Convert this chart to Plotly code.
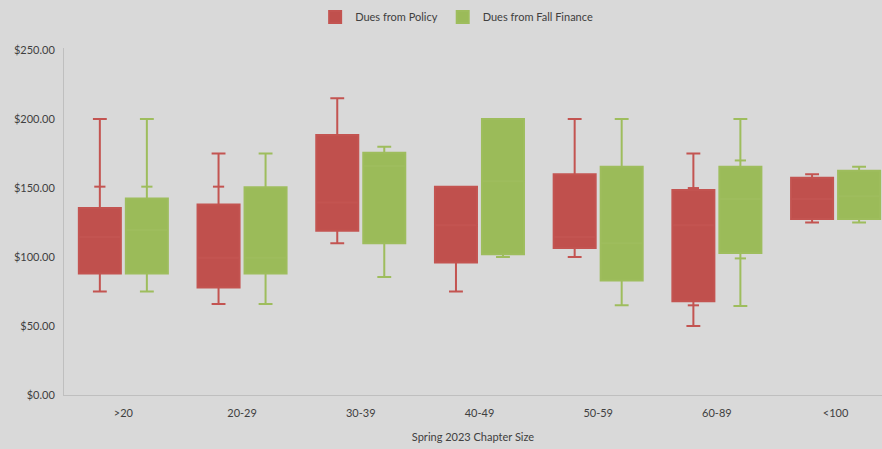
import plotly.graph_objects as go

# Chapter size groups
categories = [">20", "20-29", "30-39", "40-49", "50-59", "60-89", "<100"]

# Dues from Policy: five-number summaries per group
policy_min = [75, 66, 110, 75, 100, 50, 125]
policy_q1 = [88, 78, 119, 96, 106.5, 68, 127.5]
policy_median = [114.5, 99.5, 139.5, 123, 114.5, 123, 142]
policy_q3 = [135.5, 138, 188.5, 151, 160, 148.5, 157.5]
policy_max = [200, 175, 215, 151, 200, 175, 160]
policy_points = [[151], [151], [], [], [], [150, 65], []]

# Dues from Fall Finance: five-number summaries per group
fall_min = [75, 66, 85.5, 100, 65, 64.5, 125]
fall_q1 = [88, 88, 110, 102, 83, 103, 127.5]
fall_median = [119.5, 99.5, 166, 155, 110, 142, 144]
fall_q3 = [142.5, 150.5, 175.5, 200, 165.5, 165.5, 162.5]
fall_max = [200, 175, 180, 200, 200, 200, 165.5]
fall_points = [[151], [], [], [], [], [170, 99], []]

y_ticks = [0, 50, 100, 150, 200, 250]

BG = "#D9D9D9"
TEXT = "#404040"
AXIS_LINE = "#BFBFBF"
RED_FILL, RED_LINE = "#C0504D", "#C35451"
GREEN_FILL, GREEN_LINE = "#9BBB59", "#9EBD5D"

OFFSET = 0.198
BOX_W = 0.354

series = [
    ("Dues from Policy", -OFFSET, policy_min, policy_q1, policy_median, policy_q3,
     policy_max, policy_points, RED_FILL, RED_LINE),
    ("Dues from Fall Finance", OFFSET, fall_min, fall_q1, fall_median, fall_q3,
     fall_max, fall_points, GREEN_FILL, GREEN_LINE),
]

fig = go.Figure()
idx = list(range(len(categories)))

for name, off, lo, q1, med, q3, hi, pts, fill, line in series:
    xs = [i + off for i in idx]
    fig.add_trace(go.Box(
        name=name,
        x=xs,
        lowerfence=lo, q1=q1, median=med, q3=q3, upperfence=hi,
        width=BOX_W,
        whiskerwidth=0.33,
        fillcolor=fill,
        line=dict(color=line, width=2),
        boxpoints=False,
        hoverinfo="skip",
    ))
    px, py = [], []
    for x, vals in zip(xs, pts):
        for v in vals:
            px.append(x)
            py.append(v)
    fig.add_trace(go.Scatter(
        x=px, y=py, mode="markers", showlegend=False, hoverinfo="skip",
        marker=dict(symbol="line-ew", size=8, line=dict(color=line, width=2)),
    ))

fig.update_layout(
    width=882, height=449,
    paper_bgcolor=BG, plot_bgcolor=BG,
    margin=dict(l=64, r=0, t=48, b=54),
    font=dict(family="Lato, 'Open Sans', sans-serif", size=11, color=TEXT),
    showlegend=True,
    legend=dict(
        orientation="h", x=0.48, xanchor="center", y=1.089, yanchor="middle",
        bgcolor="rgba(0,0,0,0)", font=dict(size=11, color=TEXT),
    ),
    xaxis=dict(
        tickmode="array", tickvals=idx, ticktext=categories,
        range=[-0.5, 6.391], showgrid=False, zeroline=False,
        showline=True, linecolor=AXIS_LINE, linewidth=1,
        ticks="outside", ticklen=8, tickcolor=BG,
        title=dict(text="Spring 2023 Chapter Size", standoff=15,
                   font=dict(size=11, color=TEXT)),
    ),
    yaxis=dict(
        range=[0, 251.5], tickvals=y_ticks, tickformat="$.2f",
        showgrid=False, zeroline=False,
        showline=True, linecolor=AXIS_LINE, linewidth=1,
        ticks="outside", ticklen=6, tickcolor=BG,
    ),
)

fig.write_html("out.html")
